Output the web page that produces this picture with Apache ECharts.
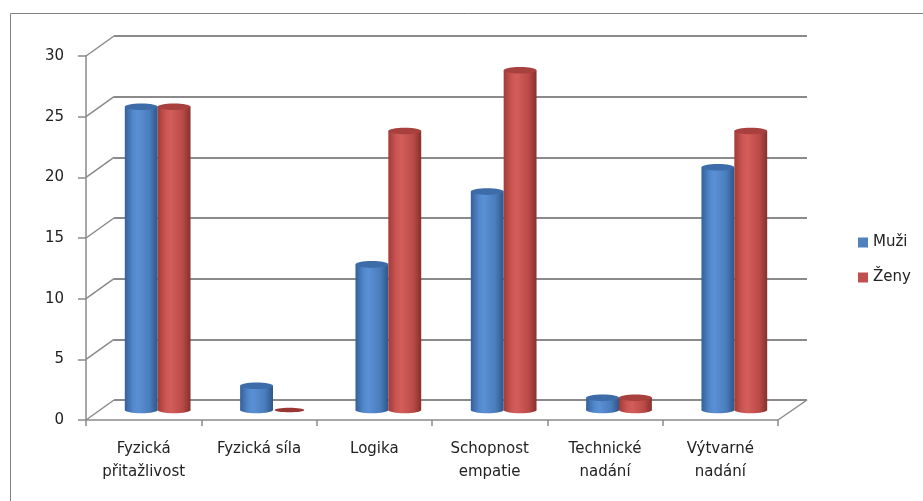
<!DOCTYPE html>
<html>
<head>
<meta charset="utf-8">
<script src="https://cdn.jsdelivr.net/npm/echarts@6/dist/echarts.min.js"></script>
<style>
html,body{margin:0;padding:0;background:#fff;}
#chart{width:923px;height:501px;}
</style>
</head>
<body>
<div id="chart"></div>
<script>
// ---- data ----
const categories = ['Fyzická\npřitažlivost', 'Fyzická síla', 'Logika', 'Schopnost\nempatie', 'Technické\nnadání', 'Výtvarné\nnadání'];
const seriesNames = ['Muži', 'Ženy'];
const muzi = [25, 2, 12, 18, 1, 20];
const zeny = [25, 0, 23, 28, 1, 23];
const yTicks = [0, 5, 10, 15, 20, 25, 30];

// ---- style constants ----
const FONT = 'DejaVu Sans';
const GRID_COLOR = '#8a8a8a';
const DX = 28, DY = 20;   // 3D depth offset (front -> back)
const FRONT = {left: 86, top: 56, width: 692, height: 364};
const BLUE = '#4F81BD', RED = '#C0504D';

const palettes = [
  {stops: ['#35609a', '#5288cc', '#5a90d4', '#4a7dbd', '#2f5687'], top: '#3d6ca8', flat: '#36609a'},
  {stops: ['#a03c39', '#cc5653', '#d35d5a', '#bb4b48', '#87302d'], top: '#a8413e', flat: '#9a3633'}
];

function barRender(si) {
  return function (params, api) {
    const ci = api.value(0), v = api.value(1);
    const band = api.size([1, 0])[0];
    const w = band * 0.285;
    const base = api.coord([ci, 0]);
    const top = api.coord([ci, v]);
    const x0 = base[0] + (si === 0 ? -w : 0);
    const rx = w / 2, ry = w * 0.1;
    const cx = x0 + rx;
    const p = palettes[si];
    const grad = {
      type: 'linear', x: 0, y: 0, x2: 1, y2: 0,
      colorStops: [
        {offset: 0, color: p.stops[0]},
        {offset: 0.25, color: p.stops[1]},
        {offset: 0.4, color: p.stops[2]},
        {offset: 0.75, color: p.stops[3]},
        {offset: 1, color: p.stops[4]}
      ]
    };
    const children = [];
    if (v > 0) {
      children.push({type: 'ellipse', shape: {cx: cx, cy: base[1], rx: rx, ry: ry}, style: {fill: grad}});
      children.push({type: 'rect', shape: {x: x0, y: top[1], width: w, height: base[1] - top[1]}, style: {fill: grad}});
      children.push({type: 'ellipse', shape: {cx: cx, cy: top[1], rx: rx, ry: ry}, style: {fill: p.top}});
    } else {
      children.push({type: 'ellipse', shape: {cx: cx, cy: base[1], rx: rx * 0.9, ry: ry * 0.7}, style: {fill: p.flat}});
    }
    return {type: 'group', children: children};
  };
}

function frameRender(params, api) {
  const v = api.value(1);
  const cs = params.coordSys;
  const y = api.coord([0, v])[1];
  const st = {stroke: GRID_COLOR, lineWidth: 1.5};
  const ch = [{type: 'line', shape: {x1: cs.x, y1: y, x2: cs.x + DX, y2: y - DY}, style: st}];
  if (v === 0) {
    ch.push({type: 'line', shape: {x1: cs.x + cs.width, y1: y, x2: cs.x + cs.width + DX + 1, y2: y - DY}, style: st});
  }
  return {type: 'group', children: ch};
}

const chart = echarts.init(document.getElementById('chart'));
const option = {
  animation: false,
  backgroundColor: '#fff',
  graphic: [{
    type: 'rect', left: 8, top: 11, z: -10,
    shape: {width: 1000, height: 600},
    style: {fill: 'none', stroke: '#808080', lineWidth: 1}
  }],
  legend: {
    orient: 'vertical', left: 853, top: 230,
    itemWidth: 10, itemHeight: 10, itemGap: 20, icon: 'rect',
    textStyle: {fontFamily: FONT, fontSize: 15, color: '#222'},
    data: [{name: 'Muži', itemStyle: {color: BLUE}}, {name: 'Ženy', itemStyle: {color: RED}}]
  },
  grid: [
    {left: FRONT.left, top: FRONT.top, width: FRONT.width, height: FRONT.height},
    {left: FRONT.left + DX, top: FRONT.top - DY, width: FRONT.width + 1, height: FRONT.height},
    {left: FRONT.left + DX / 2, top: FRONT.top - DY / 2, width: FRONT.width, height: FRONT.height}
  ],
  xAxis: [
    {
      type: 'category', gridIndex: 0, data: categories,
      axisLine: {show: true, lineStyle: {color: GRID_COLOR, width: 1.5}},
      axisTick: {show: true, length: 6, lineStyle: {color: GRID_COLOR, width: 1.5}},
      axisLabel: {fontFamily: FONT, fontSize: 15, color: '#222', margin: 18, lineHeight: 23, interval: 0}
    },
    {type: 'category', gridIndex: 1, data: categories, show: false},
    {type: 'category', gridIndex: 2, data: categories, show: false}
  ],
  yAxis: [
    {
      type: 'value', gridIndex: 0, min: 0, max: 30, interval: 5,
      axisLine: {show: true, lineStyle: {color: GRID_COLOR, width: 1.5}},
      axisTick: {show: true, length: 8, lineStyle: {color: GRID_COLOR, width: 1.5}},
      splitLine: {show: false},
      axisLabel: {fontFamily: FONT, fontSize: 15, color: '#222', margin: 22}
    },
    {
      type: 'value', gridIndex: 1, min: 0, max: 30, interval: 5,
      axisLine: {show: false}, axisTick: {show: false}, axisLabel: {show: false},
      splitLine: {show: true, lineStyle: {color: GRID_COLOR, width: 2}}
    },
    {type: 'value', gridIndex: 2, min: 0, max: 30, interval: 5, show: false, splitLine: {show: false}}
  ],
  series: [
    {
      type: 'custom', name: 'frame', xAxisIndex: 0, yAxisIndex: 0, silent: true,
      renderItem: frameRender, encode: {x: 0, y: 1},
      data: yTicks.map(function (v) { return [0, v]; }), z: 1
    },
    {
      type: 'custom', name: seriesNames[0], xAxisIndex: 2, yAxisIndex: 2,
      renderItem: barRender(0), encode: {x: 0, y: 1}, itemStyle: {color: BLUE},
      data: muzi.map(function (v, i) { return [i, v]; }), z: 3
    },
    {
      type: 'custom', name: seriesNames[1], xAxisIndex: 2, yAxisIndex: 2,
      renderItem: barRender(1), encode: {x: 0, y: 1}, itemStyle: {color: RED},
      data: zeny.map(function (v, i) { return [i, v]; }), z: 3
    }
  ]
};
chart.setOption(option);
</script>
</body>
</html>
